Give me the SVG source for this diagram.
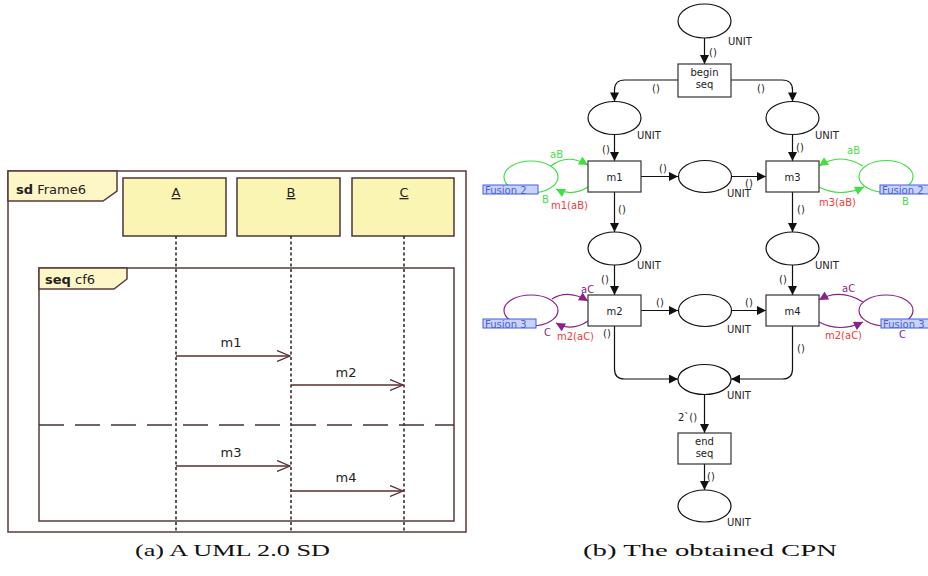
<svg xmlns="http://www.w3.org/2000/svg" width="928" height="576" viewBox="0 0 928 576">
<defs>
<style>
.frame{fill:none;stroke:#5a3a3a;stroke-width:1.5}
.tab{fill:#fdf6c6;stroke:#5a3a3a;stroke-width:1.5}
.lbox{fill:#fbf5b3;stroke:#4d3434;stroke-width:1.5}
.life{stroke:#222;stroke-width:1.5;stroke-dasharray:3,2.5;fill:none}
.msg{stroke:#5a2e2e;stroke-width:1.3;fill:none}
.sep{stroke:#4a3030;stroke-width:1.5;stroke-dasharray:25,11;fill:none}
.ut{font-family:"DejaVu Sans",sans-serif;font-size:13px;fill:#222}
.ub{font-weight:bold}
.cap{font-family:"Liberation Serif",serif;font-size:17px;fill:#111}
.pl{fill:#fff;stroke:#111;stroke-width:1.2}
.tr{fill:#fff;stroke:#333;stroke-width:1.2}
.arc{fill:none;stroke:#111;stroke-width:1.2}
.t{font-family:"DejaVu Sans",sans-serif;font-size:10px;fill:#222}
.tm{text-anchor:middle}
.g{fill:#3fe03f}
.p{fill:#8b1f8b}
.r{fill:#f03a3a}
.fg{fill:none;stroke:#3fe03f;stroke-width:1.2}
.fp{fill:none;stroke:#8b1f8b;stroke-width:1.2}
.tag{fill:#c9d2f9;stroke:#3f5fe0;stroke-width:1}
.tagt{font-family:"DejaVu Sans",sans-serif;font-size:10px;fill:#4a5fd8}
</style>
<marker id="ah" viewBox="0 0 10 10" refX="10" refY="5" markerWidth="10" markerHeight="9" markerUnits="userSpaceOnUse" orient="auto"><path d="M0,0 L10,5 L0,10 z" fill="#111"/></marker>
<marker id="ahg" viewBox="0 0 10 10" refX="10" refY="5" markerWidth="10" markerHeight="9" markerUnits="userSpaceOnUse" orient="auto"><path d="M0,0 L10,5 L0,10 z" fill="#3fe03f"/></marker>
<marker id="ahp" viewBox="0 0 10 10" refX="10" refY="5" markerWidth="10" markerHeight="9" markerUnits="userSpaceOnUse" orient="auto"><path d="M0,0 L10,5 L0,10 z" fill="#8b1f8b"/></marker>
<marker id="oa" viewBox="0 0 14 12" refX="13" refY="6" markerWidth="14" markerHeight="12" markerUnits="userSpaceOnUse" orient="auto"><path d="M0,0.5 L13,6 L0,11.5" fill="none" stroke="#5a2e2e" stroke-width="1.3"/></marker>
</defs>
<rect width="928" height="576" fill="#fff"/>

<!-- (a) UML sequence diagram -->
<g id="sd-frame">
<rect x="8" y="171" width="458" height="361" fill="#fffbf9" class="frame"/>
<path d="M8,171 H117 V191 L103,201 H8 Z" class="tab"/>
<text x="16" y="194" class="ut"><tspan class="ub">sd</tspan> Frame6</text>
</g>
<g id="lifeline-A">
<rect x="123" y="178" width="103" height="58" class="lbox"/>
<text x="176" y="197" class="ut tm" text-decoration="underline">A</text>
<line x1="176" y1="236" x2="176" y2="532" class="life"/>
</g>
<g id="lifeline-B">
<rect x="237" y="178" width="103" height="58" class="lbox"/>
<text x="291" y="197" class="ut tm" text-decoration="underline">B</text>
<line x1="291" y1="236" x2="291" y2="532" class="life"/>
</g>
<g id="lifeline-C">
<rect x="352" y="178" width="102" height="58" class="lbox"/>
<text x="404" y="197" class="ut tm" text-decoration="underline">C</text>
<line x1="404" y1="236" x2="404" y2="532" class="life"/>
</g>
<g id="seq-cf6">
<rect x="39" y="268" width="415" height="253" class="frame"/>
<path d="M39,268 H127 V279 L114,289 H39 Z" class="tab"/>
<text x="45" y="284" class="ut"><tspan class="ub">seq</tspan> cf6</text>
<line x1="39" y1="425" x2="454" y2="425" class="sep"/>
</g>
<g id="messages">
<line x1="176" y1="356" x2="290" y2="356" class="msg" marker-end="url(#oa)"/>
<text x="231" y="347" class="ut tm">m1</text>
<line x1="291" y1="385" x2="403" y2="385" class="msg" marker-end="url(#oa)"/>
<text x="346" y="377" class="ut tm">m2</text>
<line x1="176" y1="466" x2="290" y2="466" class="msg" marker-end="url(#oa)"/>
<text x="231" y="457" class="ut tm">m3</text>
<line x1="291" y1="491" x2="403" y2="491" class="msg" marker-end="url(#oa)"/>
<text x="346" y="482" class="ut tm">m4</text>
</g>
<text x="232.5" y="556" class="cap tm" textLength="195" lengthAdjust="spacingAndGlyphs">(a) A UML 2.0 SD</text>

<!-- (b) CPN -->
<g id="connectors">
<path d="M704.5,38 V64" class="arc" marker-end="url(#ah)"/>
<path d="M679,80 H625 Q614.5,80 614.5,90 V101.5" class="arc" marker-end="url(#ah)"/>
<path d="M731,80 H782 Q792.5,80 792.5,90 V101.5" class="arc" marker-end="url(#ah)"/>
<path d="M614.5,134.5 V161" class="arc" marker-end="url(#ah)"/>
<path d="M792.5,134.5 V161" class="arc" marker-end="url(#ah)"/>
<path d="M641,176.5 H678" class="arc" marker-end="url(#ah)"/>
<path d="M731.5,176.5 H766" class="arc" marker-end="url(#ah)"/>
<path d="M614.5,192 V232" class="arc" marker-end="url(#ah)"/>
<path d="M792.5,192 V232" class="arc" marker-end="url(#ah)"/>
<path d="M614.5,265 V295" class="arc" marker-end="url(#ah)"/>
<path d="M792.5,265 V295" class="arc" marker-end="url(#ah)"/>
<path d="M641,310.5 H678" class="arc" marker-end="url(#ah)"/>
<path d="M731.5,310.5 H766" class="arc" marker-end="url(#ah)"/>
<path d="M614.5,326 V369 Q614.5,379 624.5,379 H678" class="arc" marker-end="url(#ah)"/>
<path d="M792.5,326 V369 Q792.5,379 782.5,379 H731" class="arc" marker-end="url(#ah)"/>
<path d="M704.5,394.5 V433" class="arc" marker-end="url(#ah)"/>
<path d="M704.5,464 V490" class="arc" marker-end="url(#ah)"/>
<path d="M551,166 Q567,153 588,165" class="fg" marker-end="url(#ahg)"/>
<path d="M588,187 Q572,197 556,189" class="fg" marker-end="url(#ahg)"/>
<path d="M863,166 Q840,152 819,166" class="fg" marker-end="url(#ahg)"/>
<path d="M819,187 Q840,198 864,187" class="fg" marker-end="url(#ahg)"/>
<path d="M552,299 Q568,289 588,301" class="fp" marker-end="url(#ahp)"/>
<path d="M588,321 Q572,332 556,323" class="fp" marker-end="url(#ahp)"/>
<path d="M863,302 Q840,288 819,300" class="fp" marker-end="url(#ahp)"/>
<path d="M819,322 Q840,333 863,322" class="fp" marker-end="url(#ahp)"/>
<g class="t">
<text x="709" y="56">()</text>
<text x="652" y="92">()</text>
<text x="757" y="92">()</text>
<text x="602" y="153">()</text>
<text x="796" y="151">()</text>
<text x="659" y="172">()</text>
<text x="745" y="187">()</text>
<text x="618" y="213">()</text>
<text x="797" y="213">()</text>
<text x="601" y="283">()</text>
<text x="779" y="283">()</text>
<text x="656" y="306">()</text>
<text x="745" y="306">()</text>
<text x="603" y="337">()</text>
<text x="797" y="352">()</text>
<text x="678" y="421">2`()</text>
<text x="707" y="480">()</text>
</g>
<g class="t">
<text x="550" y="158" class="g">aB</text>
<text x="542" y="203" class="g">B</text>
<text x="551" y="209" class="r">m1(aB)</text>
<text x="847" y="154" class="g">aB</text>
<text x="819" y="206" class="r">m3(aB)</text>
<text x="902" y="205" class="g">B</text>
<text x="581" y="293" class="p">aC</text>
<text x="544" y="336" class="p">C</text>
<text x="557" y="340" class="r">m2(aC)</text>
<text x="842" y="292" class="p">aC</text>
<text x="825" y="339" class="r">m2(aC)</text>
<text x="899" y="338" class="p">C</text>
</g>
</g>

<g id="p-start"><ellipse cx="704.5" cy="21" rx="26.5" ry="17" class="pl"/><text x="728" y="45" class="t">UNIT</text></g>
<g id="t-begin-seq"><rect x="678" y="64" width="53" height="33" class="tr"/><text x="704.5" y="76" class="t tm">begin</text><text x="704.5" y="88" class="t tm">seq</text></g>
<g id="p-A"><ellipse cx="614.5" cy="118" rx="26.5" ry="16.5" class="pl"/><text x="637" y="139" class="t">UNIT</text></g>
<g id="p-B"><ellipse cx="792.5" cy="118" rx="26.5" ry="16.5" class="pl"/><text x="815" y="139" class="t">UNIT</text></g>
<g id="t-m1"><rect x="588" y="161" width="53" height="31" class="tr"/><text x="614.5" y="180.5" class="t tm">m1</text></g>
<g id="p-m1"><ellipse cx="705" cy="176.5" rx="26.5" ry="16" class="pl"/><text x="727" y="197" class="t">UNIT</text></g>
<g id="t-m3"><rect x="766" y="161" width="53" height="31" class="tr"/><text x="792.5" y="180.5" class="t tm">m3</text></g>
<g id="fusion2-left"><ellipse cx="531" cy="177" rx="27" ry="16" class="fg"/><rect x="483" y="185" width="55" height="9" class="tag"/><text x="485" y="193.5" class="tagt">Fusion 2</text></g>
<g id="fusion2-right"><ellipse cx="886" cy="176.5" rx="27" ry="16" class="fg"/><rect x="880" y="185" width="52" height="9" class="tag"/><text x="882" y="193.5" class="tagt">Fusion 2</text></g>
<g id="p-C"><ellipse cx="614.5" cy="248.5" rx="26.5" ry="16.5" class="pl"/><text x="637" y="269" class="t">UNIT</text></g>
<g id="p-D"><ellipse cx="792.5" cy="248.5" rx="26.5" ry="16.5" class="pl"/><text x="815" y="269" class="t">UNIT</text></g>
<g id="t-m2"><rect x="588" y="295" width="53" height="31" class="tr"/><text x="614.5" y="314.5" class="t tm">m2</text></g>
<g id="p-m2"><ellipse cx="705" cy="310.5" rx="26.5" ry="16" class="pl"/><text x="727" y="333" class="t">UNIT</text></g>
<g id="t-m4"><rect x="766" y="295" width="53" height="31" class="tr"/><text x="792.5" y="314.5" class="t tm">m4</text></g>
<g id="fusion3-left"><ellipse cx="531" cy="310.5" rx="27" ry="15.5" class="fp"/><rect x="483" y="319" width="53" height="9" class="tag"/><text x="485" y="327.5" class="tagt">Fusion 3</text></g>
<g id="fusion3-right"><ellipse cx="886" cy="310.5" rx="27" ry="15.5" class="fp"/><rect x="881" y="319" width="52" height="9" class="tag"/><text x="883" y="327.5" class="tagt">Fusion 3</text></g>
<g id="p-join"><ellipse cx="704.5" cy="379.5" rx="26.5" ry="15" class="pl"/><text x="727" y="399" class="t">UNIT</text></g>
<g id="t-end-seq"><rect x="678" y="433" width="53" height="31" class="tr"/><text x="704.5" y="445" class="t tm">end</text><text x="704.5" y="457" class="t tm">seq</text></g>
<g id="p-end"><ellipse cx="704.5" cy="506" rx="26.5" ry="16" class="pl"/><text x="727" y="526" class="t">UNIT</text></g>
<text x="710" y="556" class="cap tm" textLength="254" lengthAdjust="spacingAndGlyphs">(b) The obtained CPN</text>
</svg>
